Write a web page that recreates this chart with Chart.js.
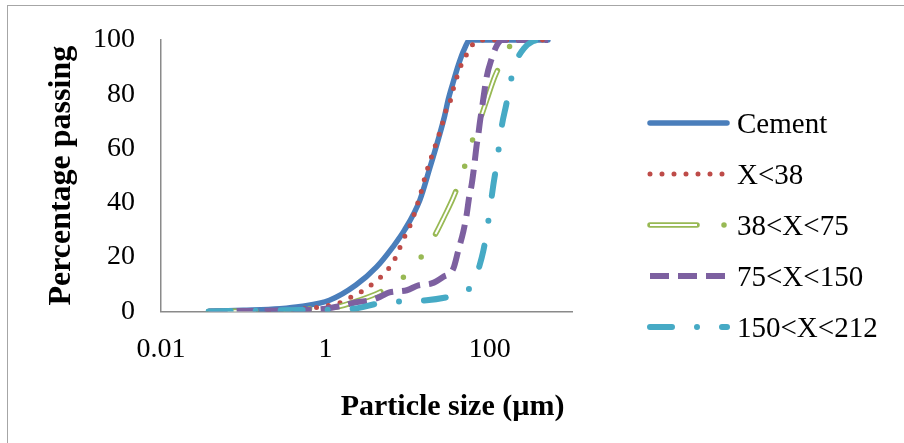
<!DOCTYPE html>
<html lang="en">
<head>
  <meta charset="UTF-8" />
  <title>Particle size distribution</title>
  <script src="https://cdn.jsdelivr.net/npm/chart.js"></script>
  <style>
    html, body {
      margin: 0;
      padding: 0;
      background: #fff;
      overflow: hidden;
    }

    #wrap {
      position: relative;
      width: 904px;
      height: 443px;
    }

    #frame {
      position: absolute;
      left: 7px;
      top: 5px;
      width: 1000px;
      height: 1000px;
      border: 1.5px solid #a6a6a6;
      box-sizing: border-box;
    }

    canvas {
      position: absolute;
      left: 0;
      top: 0;
    }
  </style>
</head>
<body>

  <div id="wrap">
    <div id="frame"></div>
    <canvas id="psdChart" width="904" height="443"></canvas>
  </div>

  <script>
    // particle sizes (µm) and cumulative % passing
    const cementSize = [0.038, 0.1, 0.28, 0.5, 1.12, 2.35, 4.2, 6.6, 9.2, 14.1, 18.7, 23.4, 28.2, 31.2, 35.5, 41.7, 47.9, 57.5, 120, 510];
    const cementPass = [0, 0.4, 1.0, 1.8, 4.1, 9.7, 16.4, 23.7, 30, 41, 53, 63, 72, 78, 84, 91, 96, 100, 100, 100];

    const x38Size = [0.038, 0.32, 0.79, 1.57, 2.07, 2.88, 3.99, 5.28, 6.67, 7.67, 8.83, 10.2, 14.8, 16.3, 18.3, 20.5, 23, 26, 28.5, 32.8, 36, 45.7, 55, 66, 79, 150, 510];
    const x38Pass = [0, 0.5, 1.5, 3.4, 5.3, 7.7, 10.8, 14.1, 18.2, 21.9, 26.5, 30, 44.6, 49.6, 54.5, 58.8, 63.3, 68.3, 73, 77.2, 82, 91.4, 95.7, 99.4, 100, 100, 100];

    const x38to75Size = [0.038, 0.3, 0.64, 1.3, 2.5, 4.6, 8.3, 14, 21.4, 28, 36, 47.6, 58.6, 75, 92, 115, 158, 200, 510];
    const x38to75Pass = [0, 0.3, 1, 1.5, 4, 7.1, 11.8, 19.3, 28, 35, 42, 51.8, 61.2, 70, 78, 86.5, 95, 100, 100];

    const x75to150Size = [0.038, 0.5, 1, 1.64, 2.4, 3.5, 4.6, 6, 9.8, 13.5, 19.6, 27, 36, 41.4, 47.7, 52.5, 56, 60, 63, 66, 69, 72.4, 76, 80, 84, 91, 105, 122, 140, 510];
    const x75to150Pass = [0, 0.5, 1, 2.2, 3.4, 4.1, 5.3, 7, 7.8, 9.6, 10.3, 12.7, 15.8, 22.5, 29.5, 36, 42, 46.5, 51, 56, 61, 65, 70, 74.5, 79, 86, 93, 98, 100, 100];

    const x150to212Size = [0.038, 0.5, 2.2, 4.2, 8.45, 17, 31, 44, 57.6, 66, 72, 83, 92.6, 100.8, 109.7, 119.3, 129.8, 141.2, 158, 177, 209, 262, 328, 410, 510];
    const x150to212Pass = [0, 0.5, 1, 2.8, 3.7, 4.1, 5.3, 6.5, 8.6, 11, 15, 22, 30, 38, 46, 53, 61, 69, 76, 84, 92, 97, 99.4, 100, 100];

    const xTicks = [0.01, 1, 100];
    const yTicks = [0, 20, 40, 60, 80, 100];

    const serif = "'Liberation Serif', 'Times New Roman', serif";

    function points(sizes, pass) {
      return sizes.map((s, i) => ({ x: s, y: pass[i] }));
    }

    // "order": lower is painted later, so the last series ends up on top (as in Excel)
    function series(label, sizes, pass, color, width, dash, cap, order) {
      return {
        label: label,
        data: points(sizes, pass),
        borderColor: color,
        backgroundColor: color,
        borderWidth: width,
        borderDash: dash,
        borderCapStyle: cap,
        pointRadius: 0,
        cubicInterpolationMode: 'monotone',
        fill: false,
        order: order
      };
    }

    const datasets = [
      series('Cement', cementSize, cementPass, '#4a7ebb', 5.5, [], 'round', 6),
      series('X<38', x38Size, x38Pass, '#be4b48', 5, [0, 12], 'round', 5),
      series('38<X<75', x38to75Size, x38to75Pass, '#98b954', 5.5, [47, 27, 0, 27, 0, 27], 'round', 4),
      series('75<X<150', x75to150Size, x75to150Pass, '#7d60a0', 6, [19, 9], 'butt', 2),
      series('150<X<212', x150to212Size, x150to212Pass, '#46aac5', 6, [22, 25, 0, 25], 'round', 1)
    ];

    // white core over the green dashes, so they look hollow like the original
    const hollow = series('', x38to75Size, x38to75Pass, '#ffffff', 2, [47, 81], 'butt', 3);
    hollow.hideInLegend = true;
    datasets.splice(3, 0, hollow);

    // legend drawn by hand: the built-in one gets squeezed on the right
    const sideLegend = {
      id: 'sideLegend',
      afterDraw(chart) {
        const ctx = chart.ctx;
        const x0 = 650, len = 77, textX = 737, top = 125, step = 51;
        chart.data.datasets.filter(ds => !ds.hideInLegend).forEach((ds, k) => {
          const y = top + k * step;
          ctx.save();
          ctx.strokeStyle = ds.borderColor;
          ctx.lineWidth = ds.borderWidth;
          ctx.lineCap = ds.borderCapStyle;
          ctx.setLineDash(ds.borderDash);
          ctx.beginPath();
          ctx.moveTo(x0, y - 2);
          ctx.lineTo(x0 + len, y - 2);
          ctx.stroke();
          if (ds.label === '38<X<75') {
            ctx.setLineDash([]);
            ctx.lineCap = 'butt';
            ctx.strokeStyle = '#ffffff';
            ctx.lineWidth = 2;
            ctx.beginPath();
            ctx.moveTo(x0, y - 2);
            ctx.lineTo(x0 + 47, y - 2);
            ctx.stroke();
          }
          ctx.fillStyle = '#000';
          ctx.font = '29px ' + serif;
          ctx.textBaseline = 'middle';
          ctx.textAlign = 'left';
          ctx.fillText(ds.label, textX, y);
          ctx.restore();
        });
      }
    };

    const ctx = document.getElementById('psdChart').getContext('2d');

    new Chart(ctx, {
      type: 'line',
      data: { datasets: datasets },
      plugins: [sideLegend],
      options: {
        responsive: false,
        animation: false,
        layout: {
          padding: { left: 8, top: 36, right: 332, bottom: 21 }
        },
        plugins: {
          tooltip: { enabled: false },
          legend: { display: false }
        },
        scales: {
          x: {
            type: 'logarithmic',
            position: 'bottom',
            min: 0.01,
            max: 1000,
            afterBuildTicks: scale => {
              scale.ticks = xTicks.map(v => ({ value: v }));
            },
            grid: { display: false, drawTicks: false },
            border: { color: '#8a8a8a', width: 1.5 },
            ticks: {
              autoSkip: false,
              maxRotation: 0,
              padding: 21,
              color: '#000',
              font: { family: serif, size: 28 },
              callback: v => String(v)
            },
            title: {
              display: true,
              text: 'Particle size (µm) ',
              align: 'end',
              color: '#000',
              font: { family: serif, size: 30, weight: 'bold', lineHeight: 1 },
              padding: { top: 5, bottom: 0 }
            }
          },
          y: {
            type: 'linear',
            position: 'left',
            min: 0,
            max: 100,
            afterBuildTicks: scale => {
              scale.ticks = yTicks.map(v => ({ value: v }));
            },
            grid: { display: false, drawTicks: false },
            border: { color: '#8a8a8a', width: 1.5 },
            ticks: {
              padding: 26,
              color: '#000',
              font: { family: serif, size: 28, lineHeight: 1 }
            },
            title: {
              display: true,
              text: 'Percentage passing',
              color: '#000',
              font: { family: serif, size: 32, weight: 'bold', lineHeight: 1 },
              padding: { top: 38, bottom: -11 }
            }
          }
        }
      }
    });
  </script>

</body>
</html>
